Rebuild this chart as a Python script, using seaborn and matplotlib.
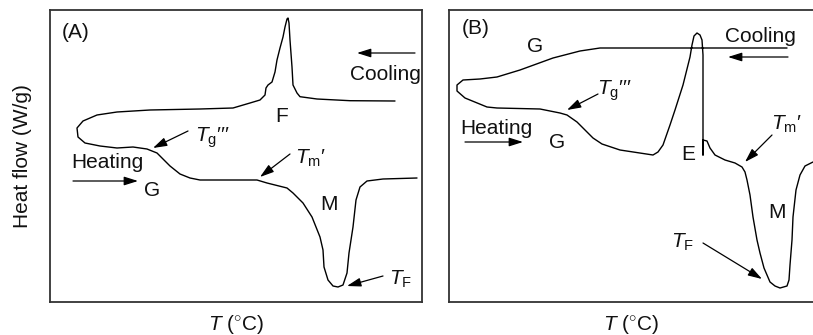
import matplotlib
matplotlib.use("Agg")
import matplotlib.pyplot as plt
import seaborn as sns
import pandas as pd

sns.set_theme(style="white")
plt.rcParams["font.family"] = ["Liberation Sans", "DejaVu Sans"]
plt.rcParams["mathtext.fontset"] = "custom"
plt.rcParams["mathtext.rm"] = "Liberation Sans"
plt.rcParams["mathtext.it"] = "Liberation Sans:italic"
plt.rcParams["mathtext.cal"] = "Liberation Sans"

# ---- data (schematic DSC curves; arbitrary units) ----
a_x = [395, 350, 317, 300, 297, 293, 292, 290, 289, 288, 287, 285, 283, 280, 277, 275, 272, 268,
       266, 265, 260, 250, 233, 200, 150, 117, 97, 83, 77, 78, 85, 100, 117, 133, 147, 157, 163,
       170, 180, 190, 200, 233, 257, 267, 287, 293, 303, 312, 320, 323, 324, 328, 333, 338, 343,
       347, 349, 353, 356, 360, 367, 383, 417]
a_y = [101, 100.7, 99, 96.7, 93, 85, 67, 40, 23, 18, 19, 27, 37, 48, 60, 72, 82, 85,
       88, 95, 100, 103, 108, 109, 110, 112, 115, 121, 128, 137, 143, 146, 148, 147, 149, 153, 159,
       166, 174, 178, 180, 180, 180, 183, 188, 193, 203, 217, 237, 250, 267, 280, 286, 287, 285,
       273, 253, 227, 200, 187, 181, 179, 178]

b_x = [787, 703, 600, 580, 553, 520, 497, 480, 463, 457, 457, 465, 487, 497, 540, 560, 567, 577,
       585, 593, 602, 620, 653, 658, 663, 670, 675, 683, 690, 692, 694, 697, 700, 702, 703, 703,
       703, 703, 707, 710, 715, 725, 735, 742, 745, 747, 750, 753, 757, 760, 764, 767, 770, 775,
       780, 787, 789, 790, 792, 793, 796, 800, 805, 813]
b_y = [48, 48, 48, 51, 58, 70, 77, 79, 80, 85, 91, 98, 107, 108, 109, 113, 115, 122,
       130, 138, 144, 150, 155, 152, 145, 125, 110, 85, 57, 45, 36, 33, 35, 40, 55, 100,
       155, 140, 141, 148, 155, 160, 163, 167, 172, 180, 195, 217, 240, 253, 268, 275, 282, 286,
       288, 286, 280, 265, 240, 217, 190, 175, 166, 162]

TG = r"$T_{\rm g}$" + "\u2032\u2032\u2032"
TM = r"$T_{\rm m}$" + "\u2032"
TF = r"$T_{\rm F}$"

# annotation texts: (label, x, y)
a_texts = [("(A)", 76, 33), ("F", 282, 117), ("Cooling", 385, 75), (TG, 212, 138),
           ("Heating", 107, 163), ("G", 152, 191), (TM, 310, 158), ("M", 329, 205),
           (TF, 401, 279)]
b_texts = [("(B)", 476, 28), ("G", 535, 47), ("Cooling", 760, 36), (TG, 614, 91),
           ("Heating", 496, 128), ("G", 557, 143), ("E", 688, 154), (TM, 786, 124),
           ("M", 777, 212), (TF, 683, 242)]
# arrows: (tail_x, tail_y, head_x, head_y)
a_arrows = [(415, 53, 357, 53), (188, 131, 153, 148), (73, 181, 138, 181),
            (290, 154, 260, 177), (383, 276, 347, 286)]
b_arrows = [(788, 57, 728, 57), (598, 94, 567, 110), (465, 142, 523, 142),
            (772, 135, 745, 162), (703, 243, 762, 279)]

W, H = 813, 335
FS = 15
fig = plt.figure(figsize=(W / 100, H / 100), dpi=100)


def make_ax(x0, x1, y0, y1):
    return fig.add_axes([x0 / W, 1 - y1 / H, (x1 - x0) / W, (y1 - y0) / H])


panels = [
    (make_ax(50, 422, 10, 302), (50, 422), a_x, a_y, a_texts, a_arrows),
    (make_ax(449, 813, 10, 302), (449, 813), b_x, b_y, b_texts, b_arrows),
]

for ax, xl, cx, cy, texts, arrows in panels:
    df = pd.DataFrame({"T": cx, "HF": cy})
    sns.lineplot(data=df, x="T", y="HF", sort=False, estimator=None, color="black",
                 lw=1.0, ax=ax)
    ax.set_xlim(*xl)
    ax.set_ylim(302, 10)
    ax.set_xticks([])
    ax.set_yticks([])
    ax.set_ylabel("")
    ax.set_xlabel(r"$T$ ($^{\circ}$C)", fontsize=FS, labelpad=8, color="#111111")
    for s in ax.spines.values():
        s.set_color("#333333")
        s.set_linewidth(1.3)
    for lab, x, y in texts:
        ax.text(x, y, lab, fontsize=FS, ha="center", va="center", color="#111111")
    for tx, ty, hx, hy in arrows:
        ax.annotate("", xy=(hx, hy), xytext=(tx, ty),
                    arrowprops=dict(arrowstyle="-|>,head_length=0.7,head_width=0.22",
                                    color="black", lw=0.9, shrinkA=0, shrinkB=0,
                                    mutation_scale=12))

panels[1][0].spines["right"].set_visible(False)
fig.text(22 / W, 1 - 156 / H, "Heat flow (W/g)", rotation=90, fontsize=FS,
         ha="center", va="center", color="#111111")

fig.savefig("out.png", dpi=100)
